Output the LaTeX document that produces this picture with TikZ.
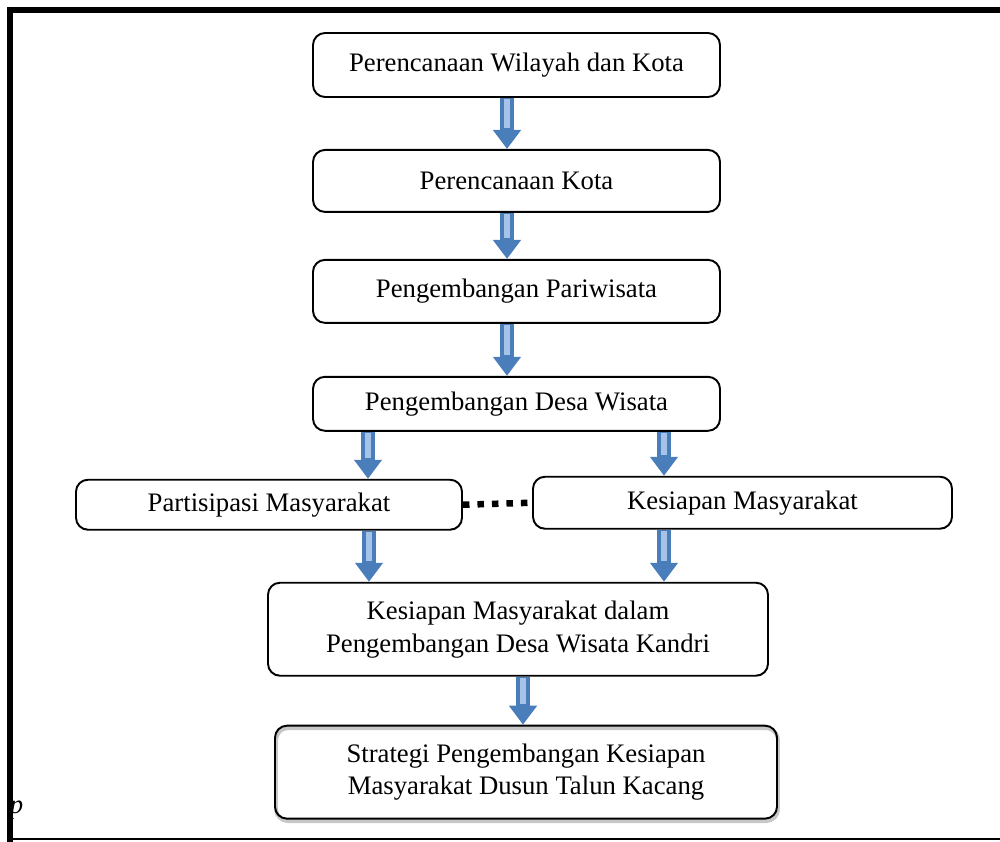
\documentclass[tikz,border=0pt]{standalone}
\usepackage{fontspec}
\setmainfont{Liberation Serif}
\usetikzlibrary{positioning, arrows.meta}
\definecolor{arrblue}{HTML}{4A7EBB}
\definecolor{arrlight}{HTML}{A7C3E8}

\tikzset{
    stage/.style={rectangle, draw, line width=1.1pt, rounded corners=0.24cm, align=center,
        font=\fontsize{15.2}{18.7}\selectfont, inner sep=0pt},
    flow/.style={line width=0.28cm, arrblue, -{Triangle[width=0.54cm, length=0.38cm]},
        postaction={draw=arrlight, line width=0.13cm, arrows=-, shorten >=0.42cm, shorten <=0.03cm}},
    link/.style={line width=0.13cm, dash pattern=on 0.13cm off 0.16cm}
}

\begin{document}
\begin{tikzpicture}
    \useasboundingbox (0,0) rectangle (20,-16.84);

    \node [stage, minimum width=8.14cm, minimum height=1.28cm] (wilayah) at (10.33,-1.30) {Perencanaan Wilayah dan Kota};
    \node [stage, minimum width=8.14cm, minimum height=1.24cm, below=1.02cm of wilayah] (kota) {Perencanaan Kota};
    \node [stage, minimum width=8.14cm, minimum height=1.26cm, below=0.92cm of kota] (pariwisata) {Pengembangan Pariwisata};
    \node [stage, minimum width=8.14cm, minimum height=1.08cm, below=1.04cm of pariwisata] (desa) {Pengembangan Desa Wisata};

    \node [stage, minimum width=7.72cm, minimum height=1.0cm, below=0.94cm of desa, xshift=-4.95cm] (partisipasi) {Partisipasi Masyarakat};
    \node [stage, minimum width=8.38cm, minimum height=1.04cm, below=0.88cm of desa, xshift=4.52cm] (kesiapan) {Kesiapan Masyarakat};

    \node [stage, minimum width=10.0cm, minimum height=1.86cm, below=3.0cm of desa, xshift=0.03cm] (kandri) {Kesiapan Masyarakat dalam\\Pengembangan Desa Wisata Kandri};
    \node [stage, minimum width=10.04cm, minimum height=1.86cm, below=0.96cm of kandri, xshift=0.16cm,
        preaction={draw=black!22, line width=2.2pt, transform canvas={xshift=0.6pt, yshift=-1.4pt}}] (strategi) {Strategi Pengembangan Kesiapan\\Masyarakat Dusun Talun Kacang};

    \draw[flow] ([xshift=-0.19cm]wilayah.south) -- ([xshift=-0.19cm]kota.north);
    \draw[flow] ([xshift=-0.19cm]kota.south) -- ([xshift=-0.19cm]pariwisata.north);
    \draw[flow] ([xshift=-0.19cm]pariwisata.south) -- ([xshift=-0.19cm]desa.north);

    \draw[flow] ([xshift=-2.97cm]desa.south) -- ([xshift=-2.97cm]desa.south |- partisipasi.north);
    \draw[flow] ([xshift=2.95cm]desa.south) -- ([xshift=2.95cm]desa.south |- kesiapan.north);

    \draw[link] (partisipasi.east) -- (kesiapan.west);

    \draw[flow] ([xshift=2.0cm]partisipasi.south) -- ([xshift=2.0cm]partisipasi.south |- kandri.north);
    \draw[flow] ([xshift=-1.57cm]kesiapan.south) -- ([xshift=-1.57cm]kesiapan.south |- kandri.north);

    \draw[flow] ([xshift=0.1cm]kandri.south) -- ([xshift=0.1cm]kandri.south |- strategi.north);

    % frame of the page
    \node [font=\fontsize{15.2}{18}\selectfont\itshape, inner sep=0pt] (pmark) at (0.33,-16.2) {p};
    \draw[line width=0.12cm] (0.2,-17) -- (0.2,-0.2) -- (20.2,-0.2);
    \draw[line width=0.04cm] (0.2,-16.77) -- (20.2,-16.77);
\end{tikzpicture}
\end{document}
